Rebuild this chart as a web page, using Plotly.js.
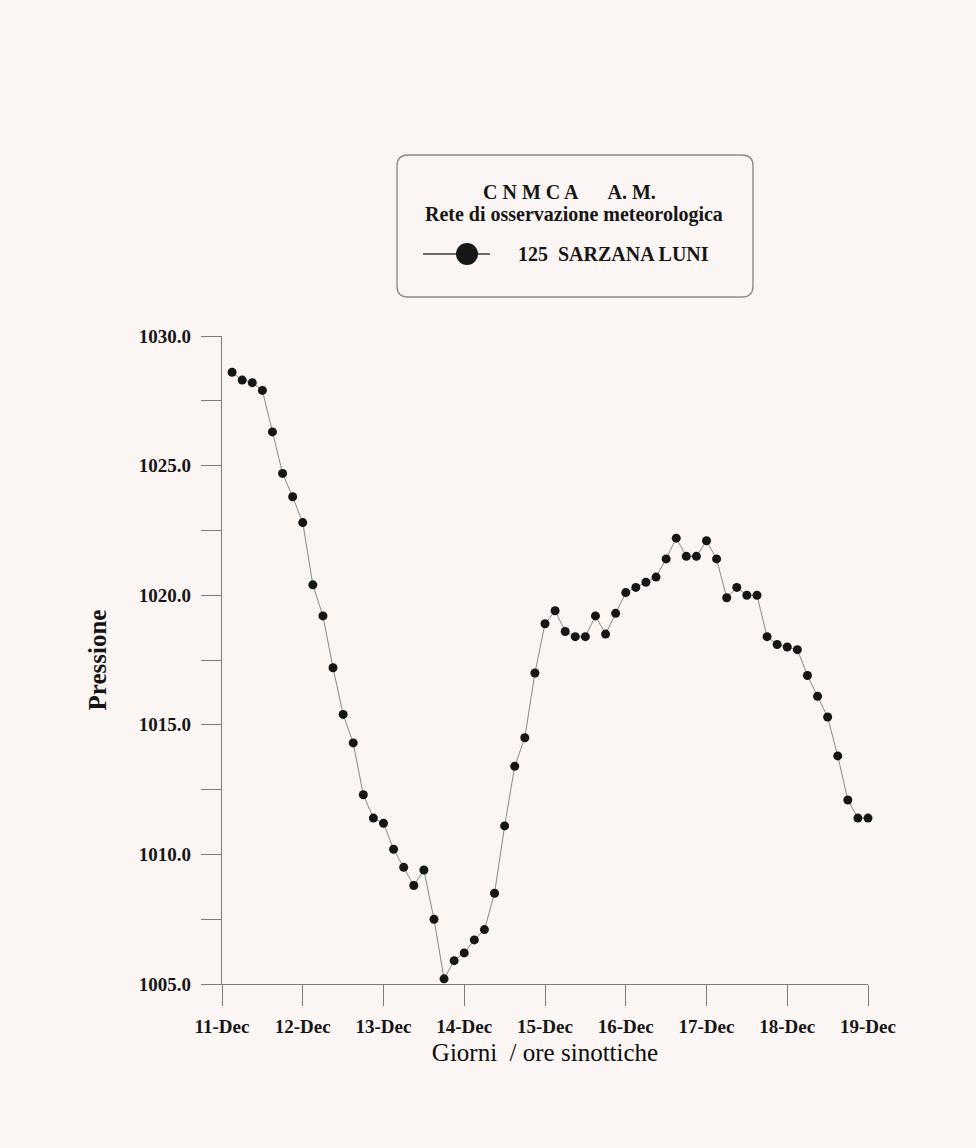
<!DOCTYPE html>
<html>
<head>
<meta charset="utf-8">
<script src="https://cdn.plot.ly/plotly-3.0.1.min.js"></script>
<style>
  html, body { margin: 0; padding: 0; background: #fbf5f4; }
  #chart { width: 976px; height: 1148px; }
</style>
</head>
<body>
<div id="chart"></div>
<script>
// Station and header text
const stationName = '125 &nbsp;SARZANA LUNI';
const headerTop = 'C N M C A &nbsp; &nbsp; &nbsp;A. M.';
const headerSub = 'Rete di osservazione meteorologica';
const yTitle = 'Pressione';
const xTitle = 'Giorni &nbsp;/ ore sinottiche';

// Synoptic observations every 3 hours, from 11-Dec 03 UTC to 19-Dec 00 UTC
const startUTC = Date.UTC(2005, 11, 11, 3);
const stepHours = 3;

// Sea-level pressure (hPa)
const pressure = [
  1028.6, 1028.3, 1028.2, 1027.9, 1026.3, 1024.7, 1023.8, 1022.8,
  1020.4, 1019.2, 1017.2, 1015.4, 1014.3, 1012.3, 1011.4, 1011.2,
  1010.2, 1009.5, 1008.8, 1009.4, 1007.5, 1005.2, 1005.9, 1006.2,
  1006.7, 1007.1, 1008.5, 1011.1, 1013.4, 1014.5, 1017.0, 1018.9,
  1019.4, 1018.6, 1018.4, 1018.4, 1019.2, 1018.5, 1019.3, 1020.1,
  1020.3, 1020.5, 1020.7, 1021.4, 1022.2, 1021.5, 1021.5, 1022.1,
  1021.4, 1019.9, 1020.3, 1020.0, 1020.0, 1018.4, 1018.1, 1018.0,
  1017.9, 1016.9, 1016.1, 1015.3, 1013.8, 1012.1, 1011.4, 1011.4
];

// Axis limits
const xRange = ['2005-12-11 00:00', '2005-12-19 00:00'];
const yRange = [1005, 1030];

const times = pressure.map((_, i) => {
  const d = new Date(startUTC + i * stepHours * 3600 * 1000);
  return d.toISOString().slice(0, 16).replace('T', ' ');
});

// Page geometry
const W = 976, H = 1148;
const M = { l: 222, r: 108, t: 336, b: 164 };
const PW = W - M.l - M.r, PH = H - M.t - M.b;
const px = x => (x - M.l) / PW;
const py = y => (H - M.b - y) / PH;

function roundedBox(x0, y0, x1, y1, r) {
  const p = (x, y) => px(x).toFixed(5) + ',' + py(y).toFixed(5);
  return 'M' + p(x0 + r, y0) + ' L' + p(x1 - r, y0) + ' Q' + p(x1, y0) + ' ' + p(x1, y0 + r) +
         ' L' + p(x1, y1 - r) + ' Q' + p(x1, y1) + ' ' + p(x1 - r, y1) +
         ' L' + p(x0 + r, y1) + ' Q' + p(x0, y1) + ' ' + p(x0, y1 - r) +
         ' L' + p(x0, y0 + r) + ' Q' + p(x0, y0) + ' ' + p(x0 + r, y0) + ' Z';
}

const serif = 'Liberation Serif, Times New Roman, serif';
const ink = '#161616';
const axisGrey = '#7c7c7c';

const trace = {
  type: 'scatter',
  mode: 'lines+markers',
  x: times,
  y: pressure,
  name: stationName,
  line: { color: '#8a8a8a', width: 1 },
  marker: { color: ink, size: 9 },
  cliponaxis: false,
  showlegend: false
};

const layout = {
  width: W,
  height: H,
  margin: M,
  paper_bgcolor: '#fbf5f4',
  plot_bgcolor: '#fbf5f4',
  showlegend: false,
  xaxis: {
    type: 'date',
    range: xRange,
    dtick: 86400000,
    tick0: xRange[0],
    tickformat: '%d-%b',
    ticks: 'outside',
    ticklen: 21,
    tickwidth: 1,
    tickcolor: axisGrey,
    ticklabelstandoff: 4,
    showgrid: false,
    zeroline: false,
    showline: true,
    linecolor: axisGrey,
    linewidth: 1.2,
    tickfont: { family: serif, size: 19, color: ink, weight: 'bold' },
    title: { text: xTitle, font: { family: serif, size: 25, color: '#0c0c0c' }, standoff: 7 },
    automargin: false,
    fixedrange: true
  },
  yaxis: {
    range: yRange,
    dtick: 5,
    tick0: 1005,
    tickformat: '.1f',
    ticks: 'outside',
    ticklen: 20,
    tickwidth: 1,
    tickcolor: axisGrey,
    ticklabelstandoff: 6,
    minor: { dtick: 2.5, ticks: 'outside', ticklen: 20, tickwidth: 1, tickcolor: axisGrey, showgrid: false },
    showgrid: false,
    zeroline: false,
    showline: true,
    linecolor: axisGrey,
    linewidth: 1.2,
    tickfont: { family: serif, size: 19, color: ink, weight: 'bold' },
    title: { text: yTitle, font: { family: serif, size: 25, color: ink, weight: 'bold' }, standoff: 25 },
    automargin: false,
    fixedrange: true
  },
  shapes: [
    { type: 'path', xref: 'paper', yref: 'paper', path: roundedBox(397, 155, 753, 297, 11),
      line: { color: '#8c8c8c', width: 1.4 }, fillcolor: 'rgba(0,0,0,0)' },
    { type: 'line', xref: 'paper', yref: 'paper', x0: px(423), x1: px(490), y0: py(254), y1: py(254),
      line: { color: '#3a3a3a', width: 1.4 } },
    { type: 'circle', xref: 'paper', yref: 'paper', x0: px(456), x1: px(478), y0: py(265), y1: py(243),
      line: { color: ink, width: 0 }, fillcolor: ink }
  ],
  annotations: [
    { xref: 'paper', yref: 'paper', x: px(569), y: py(192), xanchor: 'center', yanchor: 'middle',
      showarrow: false, text: headerTop, font: { family: serif, size: 20, color: ink, weight: 'bold' } },
    { xref: 'paper', yref: 'paper', x: px(574), y: py(215), xanchor: 'center', yanchor: 'middle',
      showarrow: false, text: headerSub, font: { family: serif, size: 20, color: ink, weight: 'bold' } },
    { xref: 'paper', yref: 'paper', x: px(516), y: py(254), xanchor: 'left', yanchor: 'middle',
      showarrow: false, text: stationName, font: { family: serif, size: 20, color: ink, weight: 'bold' } }
  ]
};

Plotly.newPlot('chart', [trace], layout, { displayModeBar: false, staticPlot: true });
</script>
</body>
</html>
